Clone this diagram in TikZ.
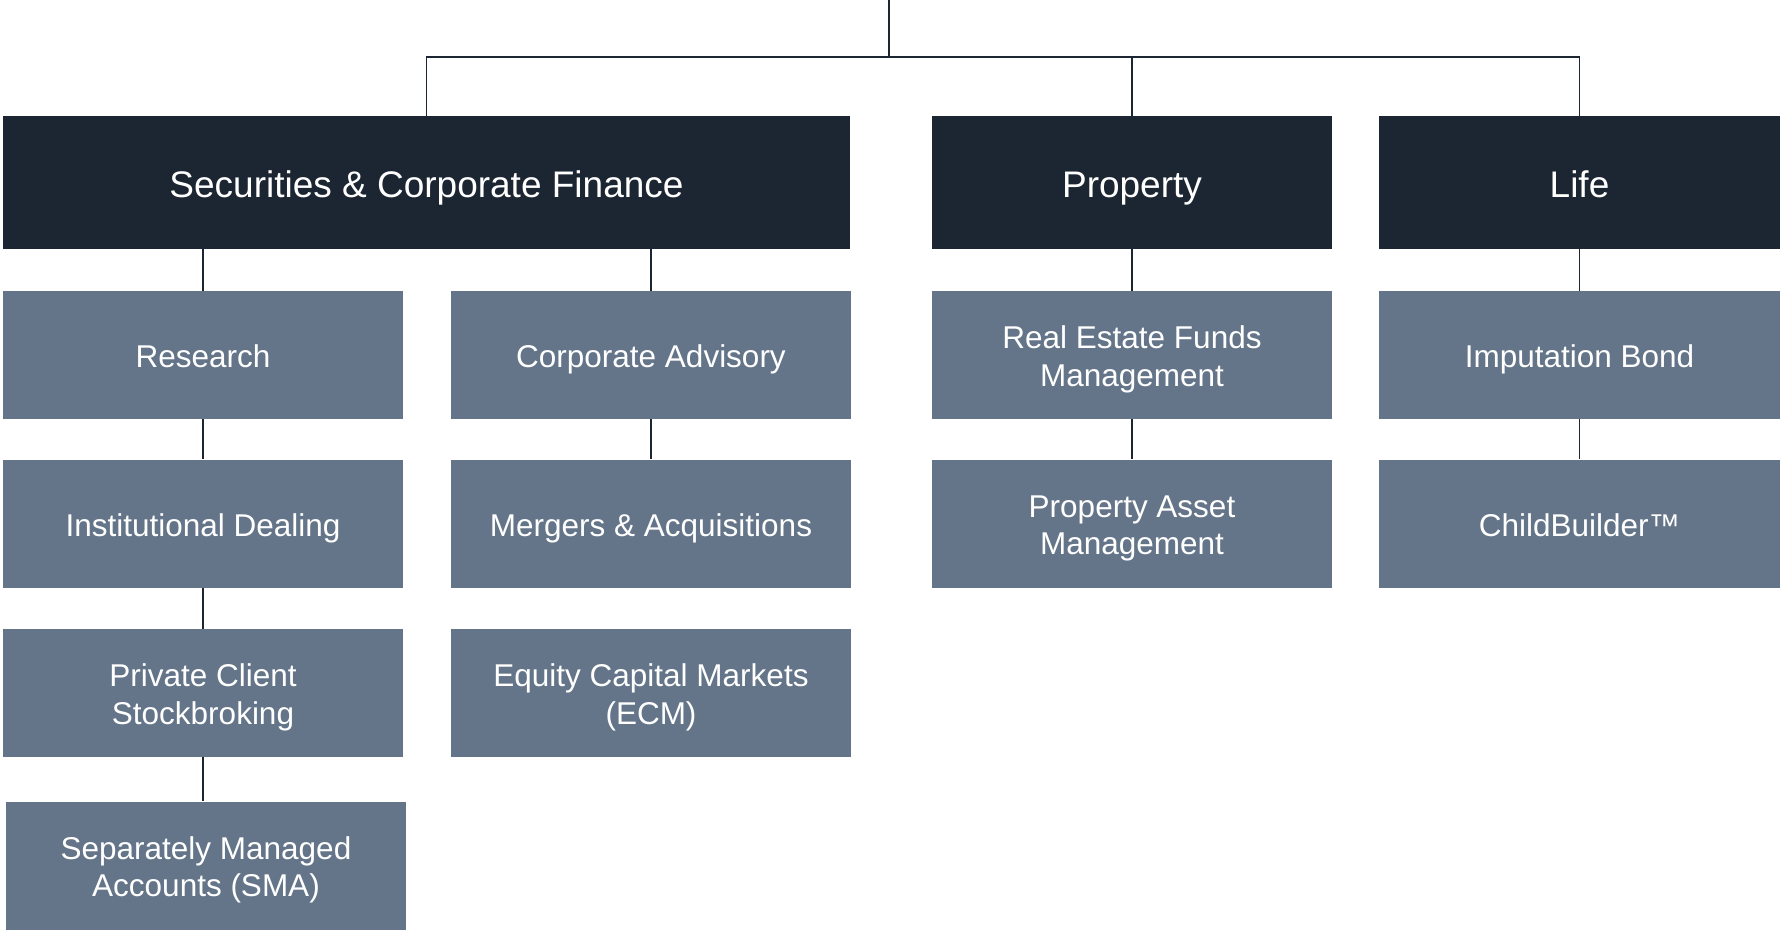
\documentclass[tikz,border=0pt]{standalone}
\usepackage{fontspec}
\setmainfont{Liberation Sans}
\usepackage{tikz}
\definecolor{navy}{HTML}{1C2632}
\definecolor{slate}{HTML}{647589}

\begin{document}
\begin{tikzpicture}[x=1pt,y=-1pt,
	head/.style={fill=navy,text=white,minimum height=133pt,inner sep=0pt,text height=32pt,text depth=2.5pt,font=\fontsize{37}{44}\selectfont},
	unit/.style={fill=slate,text=white,minimum width=400pt,minimum height=128pt,inner sep=0pt,align=center,text height=28pt,text depth=2.4pt,font=\fontsize{31.5}{37.5}\selectfont},
	two/.style={text height=65pt},
	link/.style={draw=navy,line width=1.5pt}]
	\useasboundingbox (0,0) rectangle (1780,933);
	
	\node[head,minimum width=847pt] (sec) at (426.5,182.5) {Securities \& Corporate Finance};
	\node[head,minimum width=400pt] (prop) at (1132,182.5) {Property};
	\node[head,minimum width=401pt] (life) at (1579.5,182.5) {Life};
	
	\node[unit] (res) at (203,355) {Research};
	\node[unit] (inst) at (203,523.5) {Institutional Dealing};
	\node[unit,two] (pcs) at (203,693) {Private Client\\Stockbroking};
	\node[unit,two] (sma) at (206,865.5) {Separately Managed\\Accounts (SMA)};
	\node[unit] (ca) at (651,355) {Corporate Advisory};
	\node[unit] (ma) at (651,523.5) {Mergers \& Acquisitions};
	\node[unit,two] (ecm) at (651,693) {Equity Capital Markets\\(ECM)};
	\node[unit,two] (ref) at (1132,355) {Real Estate Funds\\Management};
	\node[unit,two] (pam) at (1132,523.5) {Property Asset\\Management};
	\node[unit,minimum width=401pt] (ib) at (1579.5,355) {Imputation Bond};
	\node[unit,minimum width=401pt] (cb) at (1579.5,523.5) {ChildBuilder™};
	
	\coordinate (top) at (889,0);
	\coordinate (bus) at (889,57);
	\draw[link] (top) -- (bus);
	\draw[link] (sec.north) |- (bus) -| (life.north);
	\draw[link] (prop.north) -- (prop.north |- bus);
	\draw[link] (sec.south -| res) -- (res.north);
	\draw[link] (sec.south -| ca) -- (ca.north);
	\draw[link] (pcs.south) -- (pcs.south |- sma.north);
	\foreach \a/\b in {res/inst,inst/pcs,ca/ma,prop/ref,ref/pam,life/ib,ib/cb}
	{
		\draw[link] (\a) -- (\b);
	}
\end{tikzpicture}
\end{document}
